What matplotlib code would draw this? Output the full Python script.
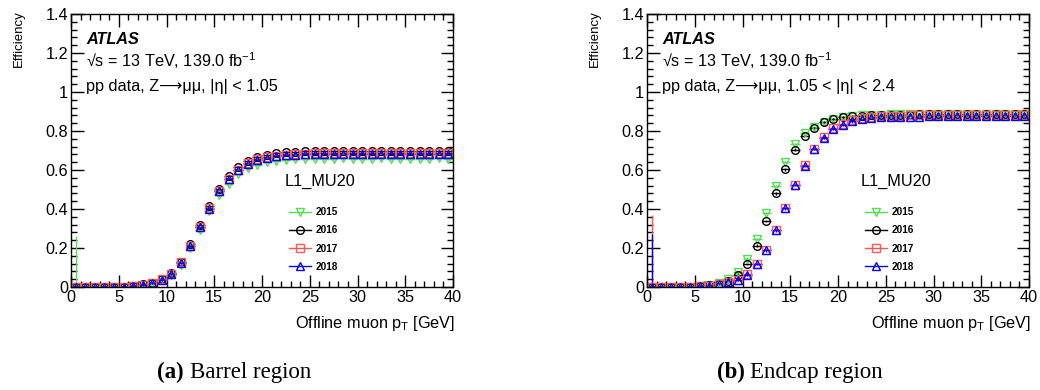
import matplotlib.pyplot as plt
import numpy as np
from matplotlib.lines import Line2D
from matplotlib.ticker import MultipleLocator

plt.rcParams['font.family'] = ['Liberation Sans', 'DejaVu Sans']
plt.rcParams['mathtext.fontset'] = 'custom'
plt.rcParams['mathtext.rm'] = 'Liberation Sans'

# bin centres of offline muon pT [GeV]
pt = np.arange(0.5, 40.0, 1.0)
years = ['2015', '2016', '2017', '2018']

# barrel efficiencies per year
barrel_2015 = [0, 0, 0, 0, 0, 0.002, 0.005, 0.01, 0.018, 0.035, 0.062, 0.115, 0.2, 0.293, 0.39,
               0.47, 0.53, 0.578, 0.608, 0.627, 0.64, 0.648, 0.652, 0.655, 0.657, 0.656, 0.658,
               0.657, 0.659, 0.656, 0.658, 0.657, 0.659, 0.657, 0.658, 0.656, 0.658, 0.657, 0.659, 0.657]
barrel_2016 = [0, 0, 0, 0, 0, 0.002, 0.007, 0.013, 0.022, 0.041, 0.072, 0.13, 0.22, 0.318, 0.415,
               0.505, 0.57, 0.615, 0.645, 0.665, 0.677, 0.685, 0.69, 0.694, 0.696, 0.697, 0.698,
               0.698, 0.699, 0.699, 0.699, 0.699, 0.699, 0.699, 0.699, 0.698, 0.699, 0.698, 0.698, 0.699]
barrel_2017 = [0, 0, 0, 0, 0, 0.002, 0.006, 0.012, 0.021, 0.039, 0.069, 0.126, 0.212, 0.308, 0.404,
               0.492, 0.556, 0.602, 0.635, 0.654, 0.666, 0.674, 0.679, 0.682, 0.684, 0.685, 0.686,
               0.686, 0.686, 0.687, 0.687, 0.687, 0.687, 0.687, 0.687, 0.687, 0.687, 0.687, 0.687, 0.687]
barrel_2018 = [0, 0, 0, 0, 0, 0.002, 0.006, 0.012, 0.02, 0.038, 0.068, 0.124, 0.21, 0.306, 0.402,
               0.49, 0.553, 0.6, 0.632, 0.651, 0.663, 0.671, 0.676, 0.679, 0.681, 0.682, 0.683,
               0.683, 0.683, 0.684, 0.684, 0.684, 0.684, 0.684, 0.684, 0.684, 0.684, 0.684, 0.684, 0.684]

# endcap efficiencies per year
endcap_2015 = [0, 0, 0, 0, 0, 0.004, 0.01, 0.022, 0.04, 0.076, 0.146, 0.247, 0.38, 0.519, 0.642,
               0.734, 0.79, 0.822, 0.846, 0.861, 0.871, 0.876, 0.88, 0.883, 0.884, 0.885, 0.885,
               0.885, 0.885, 0.886, 0.886, 0.886, 0.886, 0.886, 0.886, 0.886, 0.886, 0.886, 0.886, 0.886]
endcap_2016 = [0, 0, 0, 0, 0, 0.003, 0.008, 0.017, 0.03, 0.064, 0.117, 0.212, 0.34, 0.48, 0.603,
               0.705, 0.775, 0.815, 0.845, 0.86, 0.87, 0.876, 0.879, 0.881, 0.883, 0.884, 0.884,
               0.884, 0.885, 0.885, 0.885, 0.885, 0.885, 0.885, 0.885, 0.885, 0.885, 0.885, 0.885, 0.885]
endcap_2017 = [0, 0, 0, 0, 0, 0.003, 0.007, 0.014, 0.026, 0.038, 0.065, 0.118, 0.19, 0.292, 0.405,
               0.524, 0.625, 0.71, 0.77, 0.815, 0.836, 0.854, 0.866, 0.872, 0.876, 0.878, 0.879,
               0.88, 0.881, 0.881, 0.882, 0.882, 0.882, 0.882, 0.882, 0.882, 0.882, 0.882, 0.882, 0.882]
endcap_2018 = [0, 0, 0, 0, 0, 0.003, 0.007, 0.014, 0.026, 0.038, 0.064, 0.117, 0.188, 0.29, 0.403,
               0.522, 0.622, 0.708, 0.766, 0.812, 0.832, 0.849, 0.86, 0.866, 0.87, 0.872, 0.873,
               0.874, 0.874, 0.875, 0.875, 0.875, 0.875, 0.875, 0.875, 0.875, 0.875, 0.875, 0.875, 0.875]

# upper error of the first (low statistics) bin, per year
barrel_first_err = [0.26, 0.0, 0.0, 0.0]
endcap_first_err = [0.0, 0.0, 0.37, 0.27]
stat_err = 0.006

colors = ['#55dd55', 'black', '#ff5555', 'blue']
markers = ['v', 'o', 's', '^']

panels = [
    ([barrel_2015, barrel_2016, barrel_2017, barrel_2018], barrel_first_err,
     'pp data, Z⟶μμ, |η| < 1.05', '(a)', 'Barrel region'),
    ([endcap_2015, endcap_2016, endcap_2017, endcap_2018], endcap_first_err,
     'pp data, Z⟶μμ, 1.05 < |η| < 2.4', '(b)', 'Endcap region'),
]

fig = plt.figure(figsize=(10.4, 3.9), dpi=100)
lefts = [71 / 1040, 647 / 1040]
caption_left = [157 / 1040, 717 / 1040]
fs = 11.7

for i, (series, first_err, sel_text, tag, caption) in enumerate(panels):
    ax = fig.add_axes([lefts[i], 1 - 287 / 390, 382 / 1040, 273 / 390])
    handles = []
    for k, yr in enumerate(years):
        y = np.array(series[k])
        yerr_up = np.full(len(y), stat_err)
        yerr_up[0] = max(first_err[k], stat_err)
        yerr_dn = np.minimum(np.full(len(y), stat_err), y)
        ax.errorbar(pt, y, xerr=0.5, yerr=[yerr_dn, yerr_up], fmt=markers[k],
                    mfc='none', mec=colors[k], ecolor=colors[k], ms=5.5, mew=1.0,
                    elinewidth=1.0, capsize=0)
        handles.append(Line2D([], [], color=colors[k], marker=markers[k], mfc='none',
                              ms=5.5, mew=1.0, lw=1.0, label=yr))

    ax.set_xlim(0, 40)
    ax.set_ylim(0, 1.4)
    ax.xaxis.set_major_locator(MultipleLocator(5))
    ax.xaxis.set_minor_locator(MultipleLocator(1))
    ax.yaxis.set_major_locator(MultipleLocator(0.2))
    ax.yaxis.set_minor_locator(MultipleLocator(0.04))
    ax.yaxis.set_major_formatter(plt.FuncFormatter(lambda v, p: '%g' % round(v, 2)))
    ax.tick_params(which='both', direction='in', top=True, right=True, labelsize=fs, width=1)
    ax.tick_params(which='major', length=9, pad=2)
    ax.tick_params(which='minor', length=4.5)
    for s in ax.spines.values():
        s.set_linewidth(1.0)

    ax.set_ylabel('Efficiency', fontsize=9.5, loc='top')
    ax.yaxis.set_label_coords(-0.122, 1.014)
    ax.set_xlabel('Offline muon p$_\\mathregular{T}$ [GeV]', fontsize=fs, loc='right')
    ax.xaxis.set_label_coords(1.005, -0.1)

    ax.text(0.04, 0.905, 'ATLAS', transform=ax.transAxes, fontsize=fs, fontweight='bold',
            style='italic', va='center')
    ax.text(0.04, 0.828, '√s = 13 TeV, 139.0 fb$^{-1}$', transform=ax.transAxes,
            fontsize=fs, va='center')
    ax.text(0.04, 0.736, sel_text, transform=ax.transAxes, fontsize=fs, va='center')
    ax.text(0.56, 0.388, 'L1_MU20', transform=ax.transAxes, fontsize=fs, va='center')

    ax.legend(handles=handles, loc='upper left', bbox_to_anchor=(0.571, 0.292), frameon=False,
              prop={'weight': 'bold', 'size': 7.2}, handlelength=2.2, labelspacing=0.82,
              handletextpad=0.5, borderaxespad=0, borderpad=0)

    fig.text(caption_left[i], 0.045, tag, ha='left', va='center', fontsize=16.5,
             family='Liberation Serif', fontweight='bold')
    fig.text(caption_left[i] + 33 / 1040, 0.045, caption, ha='left', va='center', fontsize=16.5,
             family='Liberation Serif')

fig.savefig('out.png', dpi=100)
